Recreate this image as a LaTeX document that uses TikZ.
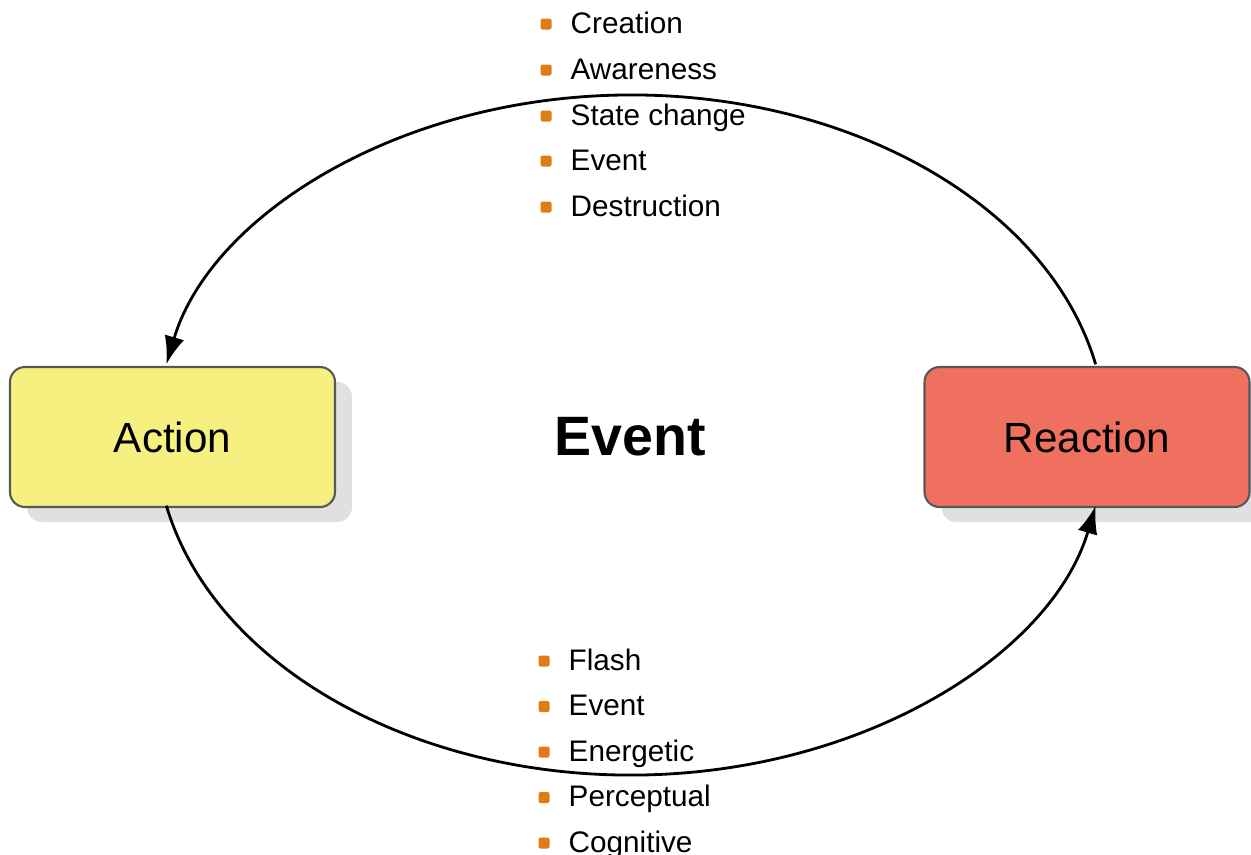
\documentclass[tikz,border=0pt]{standalone}
\usepackage{fontspec}
\setmainfont{Liberation Sans}
\usetikzlibrary{arrows.meta}
\usetikzlibrary{shadows}
\usepackage{xcolor}

\definecolor{actionyellow}{RGB}{245,240,128}
\definecolor{reactionred}{RGB}{240,112,96}
\definecolor{bulletorange}{RGB}{224,124,18}
\definecolor{boxline}{RGB}{88,88,88}
\definecolor{shadowgrey}{RGB}{224,224,224}

\begin{document}
\begin{tikzpicture}[
  stagebox/.style={draw=boxline,line width=0.6pt,rounded corners=0.15cm,
    minimum width=3.25cm,minimum height=1.40cm,font=\fontsize{12}{14}\selectfont,
    drop shadow={shadow xshift=0.17cm,shadow yshift=-0.15cm,fill=shadowgrey,opacity=1}},
  bulletbox/.style={fill=bulletorange,rounded corners=0.02cm,minimum size=0.11cm,inner sep=0pt},
  itemtext/.style={anchor=base west,inner sep=0pt,font=\fontsize{8.45}{10}\selectfont},
  cycleline/.style={line width=0.8pt,-{Latex[length=0.28cm,width=0.2cm]}}
]

\useasboundingbox (0,0) rectangle (12.51,-8.54);

\newcommand{\listitem}[4]{

  \node[bulletbox] (#1mark) at (#2-0.24,#3+0.09) {};
  \node[itemtext] (#1) at (#2,#3) {#4};
%  \draw[red] (#2,#3) -- (#2+1,#3);
}

% the two stages
\node[stagebox,fill=actionyellow] (action) at (1.725,-4.37) {Action};
\node[stagebox,fill=reactionred] (reaction) at (10.87,-4.37) {Reaction};

\node[font=\bfseries\fontsize{15.8}{18}\selectfont] (event) at (6.30,-4.37) {Event};

% the cycle round them
\coordinate (hub) at (6.31,-4.35);
\coordinate (topstart) at ([shift={(12:4.75 and 3.4)}]hub);
\coordinate (botstart) at ([shift={(192:4.75 and 3.4)}]hub);

\draw[cycleline] (topstart) arc[start angle=12,end angle=168,x radius=4.75,y radius=3.4];
\draw[cycleline] (botstart) arc[start angle=192,end angle=348,x radius=4.75,y radius=3.4];

% upper list
\listitem{creation}{5.70}{-0.33}{Creation}
\listitem{awareness}{5.70}{-0.79}{Awareness}
\listitem{statechange}{5.70}{-1.25}{State change}
\listitem{eventup}{5.70}{-1.70}{Event}
\listitem{destruction}{5.70}{-2.16}{Destruction}

% lower list
\listitem{flash}{5.68}{-6.70}{Flash}
\listitem{eventdown}{5.68}{-7.155}{Event}
\listitem{energetic}{5.68}{-7.61}{Energetic}
\listitem{perceptual}{5.68}{-8.065}{Perceptual}
\listitem{cognitive}{5.68}{-8.52}{Cognitive}

\end{tikzpicture}
\end{document}
